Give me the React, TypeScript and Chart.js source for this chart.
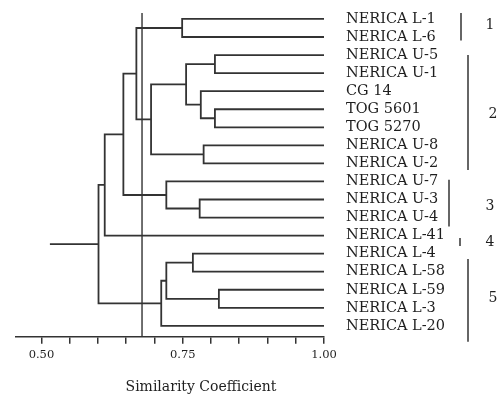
import React, { useEffect, useRef } from 'react';
import { Chart, registerables } from 'chart.js';

Chart.register(...registerables);

// Leaf order, top to bottom
const leafLabels = [
  'NERICA L-1', 'NERICA L-6', 'NERICA U-5', 'NERICA U-1', 'CG 14', 'TOG 5601',
  'TOG 5270', 'NERICA U-8', 'NERICA U-2', 'NERICA U-7', 'NERICA U-3', 'NERICA U-4',
  'NERICA L-41', 'NERICA L-4', 'NERICA L-58', 'NERICA L-59', 'NERICA L-3', 'NERICA L-20',
];

// Merges (node ids < 18 are leaves; merge k gets id 18 + k)
const mergeLeft = [0, 2, 5, 4, 19, 7, 22, 18, 10, 9, 25, 28, 13, 15, 30, 32, 29];
const mergeRight = [1, 3, 6, 20, 21, 8, 23, 24, 11, 26, 27, 12, 14, 16, 31, 17, 33];
const mergeSimilarity = [0.749, 0.807, 0.807, 0.782, 0.756, 0.787, 0.694, 0.668, 0.780, 0.721, 0.645, 0.612, 0.768, 0.814, 0.721, 0.712, 0.601];
const leafSimilarity = 1.0;
const rootTail = 0.515;
const cutoffLine = 0.678;

// Axis
const xTickValues = [0.5, 0.55, 0.6, 0.65, 0.7, 0.75, 0.8, 0.85, 0.9, 0.95, 1.0];
const xMajorValues = [0.5, 0.75, 1.0];
const xMajorLabels = ['0.50', '0.75', '1.00'];
const xTitle = 'Similarity Coefficient';

// Clusters
const clusterNames = ['1', '2', '3', '4', '5'];
const clusterFirstRow = [0, 2, 9, 12, 13];
const clusterLastRow = [1, 8, 11, 12, 17];

// layout helpers (pixels / row offsets for brackets)
const bracketTopOff = [-0.33, 0.0, -0.09, 0.13, 0.29];
const bracketBotOff = [0.2, 0.36, 0.5, 0.57, 0.88];
const bracketX = [137, 144, 125, 136, 144];
const labelX = [166, 169, 166, 166, 169];
const labelRow = [0.33, 5.3, 10.4, 12.39, 15.5];

const Y_MIN = -0.33;
const Y_MAX = 17.6;
const LINE = '#333333';
const TEXT = '#1e1e1e';
const SERIF = '"DejaVu Serif", serif';

function buildDatasets() {
  const nodeY: number[] = leafLabels.map((_, i) => i);
  const nodeH: number[] = leafLabels.map(() => leafSimilarity);
  const ds: any[] = [];
  mergeLeft.forEach((l, k) => {
    const r = mergeRight[k];
    const h = mergeSimilarity[k];
    ds.push({
      data: [
        { x: nodeH[l], y: nodeY[l] },
        { x: h, y: nodeY[l] },
        { x: h, y: nodeY[r] },
        { x: nodeH[r], y: nodeY[r] },
      ],
    });
    nodeY.push((nodeY[l] + nodeY[r]) / 2);
    nodeH.push(h);
  });
  const root = nodeY.length - 1;
  ds.push({ data: [{ x: nodeH[root], y: nodeY[root] }, { x: rootTail, y: nodeY[root] }] });
  ds.push({ data: [{ x: cutoffLine, y: Y_MIN }, { x: cutoffLine, y: Y_MAX }], borderWidth: 1.4 });
  return ds.map((d) => ({
    showLine: true,
    borderColor: LINE,
    borderWidth: 1.8,
    pointRadius: 0,
    pointHoverRadius: 0,
    fill: false,
    clip: false,
    borderJoinStyle: 'miter',
    ...d,
  }));
}

const annotate = {
  id: 'annotate',
  afterDraw(chart: any) {
    const { ctx, chartArea, scales } = chart;
    const ys = scales.y;
    ctx.save();
    ctx.strokeStyle = LINE;
    ctx.lineWidth = 1.5;
    ctx.fillStyle = TEXT;
    ctx.font = `14px ${SERIF}`;
    ctx.textAlign = 'center';
    ctx.textBaseline = 'middle';
    clusterNames.forEach((name, i) => {
      const x = chartArea.right + bracketX[i];
      const y1 = ys.getPixelForValue(clusterFirstRow[i] + bracketTopOff[i]);
      const y2 = ys.getPixelForValue(clusterLastRow[i] + bracketBotOff[i]);
      ctx.beginPath();
      ctx.moveTo(x, y1);
      ctx.lineTo(x, y2);
      ctx.stroke();
      ctx.fillText(name, chartArea.right + labelX[i], ys.getPixelForValue(labelRow[i]));
    });
    ctx.font = `14px ${SERIF}`;
    ctx.fillText(xTitle, 201, 387);
    ctx.restore();
  },
};

export default function App() {
  const ref = useRef<HTMLCanvasElement | null>(null);
  useEffect(() => {
    if (!ref.current) return;
    const chart = new Chart(ref.current, {
      type: 'scatter',
      data: { datasets: buildDatasets() },
      options: {
        animation: false,
        responsive: false,
        layout: { padding: { left: 16, top: 13, right: 0, bottom: 0 } },
        plugins: { legend: { display: false }, tooltip: { enabled: false } },
        scales: {
          x: {
            type: 'linear',
            position: 'bottom',
            min: 0.455,
            max: 1.0,
            afterBuildTicks: (scale: any) => {
              scale.ticks = xTickValues.map((v) => ({ value: v }));
            },
            afterFit: (scale: any) => {
              scale.height = 59.3;
              scale.paddingLeft = 0;
              scale.paddingRight = 0;
            },
            ticks: {
              autoSkip: false,
              maxRotation: 0,
              padding: 4,
              color: TEXT,
              font: { family: SERIF, size: 11.5 },
              callback: (v: any) => {
                const i = xMajorValues.findIndex((m) => Math.abs(m - Number(v)) < 1e-9);
                return i >= 0 ? xMajorLabels[i] : '';
              },
            },
            grid: {
              drawOnChartArea: false,
              drawTicks: true,
              tickLength: 7,
              color: LINE,
              lineWidth: 1.5,
            },
            border: { display: true, color: LINE, width: 1.5 },
          },
          y: {
            type: 'linear',
            position: 'right',
            reverse: true,
            min: Y_MIN,
            max: Y_MAX,
            afterBuildTicks: (scale: any) => {
              scale.ticks = leafLabels.map((_, i) => ({ value: i }));
            },
            afterFit: (scale: any) => {
              scale.width = 174;
              scale.paddingTop = 0;
              scale.paddingBottom = 0;
            },
            ticks: {
              autoSkip: false,
              padding: 22,
              color: TEXT,
              font: { family: SERIF, size: 14.5 },
              callback: (v: any) => leafLabels[Number(v)] ?? '',
            },
            grid: { display: false, drawTicks: false },
            border: { display: false },
          },
        },
      },
      plugins: [annotate],
    } as any);
    return () => chart.destroy();
  }, []);
  return (
    <div style={{ position: 'fixed', left: 0, top: 0, width: 498, height: 396, background: '#fff' }}>
      <canvas ref={ref} width={498} height={396} style={{ display: 'block' }} />
    </div>
  );
}
